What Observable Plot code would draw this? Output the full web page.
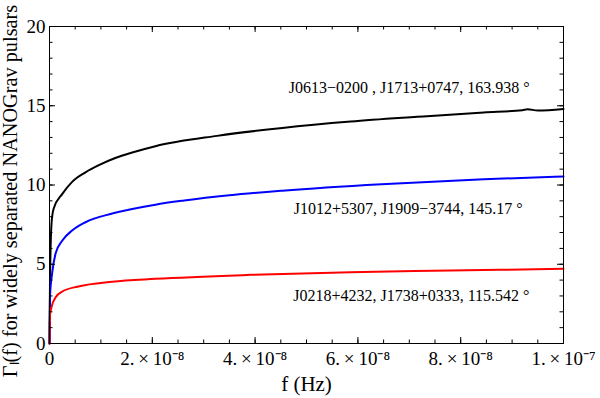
<!DOCTYPE html>
<html>
<head>
<meta charset="utf-8">
<script src="https://cdn.jsdelivr.net/npm/d3@7"></script>
<script src="https://cdn.jsdelivr.net/npm/@observablehq/plot@0.6"></script>
<style>
  html, body { margin: 0; padding: 0; background: #fff; }
  #chart { width: 600px; height: 398px; }
  #chart svg { font-family: 'Liberation Serif', 'Times New Roman', serif; }
</style>
</head>
<body>
<div id="chart"></div>
<script>
// Frequencies in Hz and Γ values for each pulsar pair
const fBlack = [0, 0.01e-8, 0.04e-8, 0.08e-8, 0.25e-8, 0.44e-8, 0.70e-8, 0.96e-8, 1.28e-8, 1.61e-8, 2.06e-8, 3.26e-8, 4.53e-8, 5.86e-8, 7.15e-8, 8.45e-8, 9.20e-8, 9.30e-8, 9.50e-8, 10e-8];
const gBlack = [0, 4.0, 7.6, 8.5, 9.44, 10.2, 10.8, 11.25, 11.7, 12.05, 12.45, 13.1, 13.6, 14.0, 14.3, 14.58, 14.72, 14.78, 14.7, 14.8];

const fBlue = [0, 0.01e-8, 0.05e-8, 0.12e-8, 0.25e-8, 0.44e-8, 0.70e-8, 1.22e-8, 2.06e-8, 2.62e-8, 3.5e-8, 4.53e-8, 6.46e-8, 8.45e-8, 10e-8];
const gBlue = [0, 3.0, 4.4, 5.7, 6.5, 7.13, 7.65, 8.2, 8.76, 9.02, 9.35, 9.64, 10.05, 10.36, 10.54];

const fRed = [0, 0.01e-8, 0.04e-8, 0.12e-8, 0.25e-8, 0.56e-8, 1.22e-8, 2.06e-8, 3.91e-8, 5.86e-8, 7.80e-8, 10e-8];
const gRed = [0, 1.8, 2.3, 2.92, 3.28, 3.6, 3.9, 4.08, 4.33, 4.5, 4.6, 4.71];

const seriesNames = ["black", "blue", "red"];
const seriesColors = ["#000000", "#0000ff", "#ff0000"];

const pairLabels = [
  "J0613\u22120200 , J1713+0747, 163.938 \u00b0",
  "J1012+5307, J1909\u22123744, 145.17 \u00b0",
  "J0218+4232, J1738+0333, 115.542 \u00b0"
];
const labelF = [7.0e-8, 6.98e-8, 7.04e-8];
const labelG = [16.1, 8.52, 3.03];

const xTicks = [0, 2e-8, 4e-8, 6e-8, 8e-8, 1e-7];
const xTickLabels = ["0", "2.\u2009\u00d7\u200910\u207b\u2078", "4.\u2009\u00d7\u200910\u207b\u2078", "6.\u2009\u00d7\u200910\u207b\u2078", "8.\u2009\u00d7\u200910\u207b\u2078", "1.\u2009\u00d7\u200910\u207b\u2077"];
const xMinor = d3.range(0, 21).map(i => i * 0.5e-8);
const yTicks = [0, 5, 10, 15, 20];
const yMinor = d3.range(0, 21);

const xLabel = "f (Hz)";
const yLabel = "\u0393\u2097(f) for widely separated NANOGrav pulsars";

// Build the table the library needs
const rows = [];
[[fBlack, gBlack], [fBlue, gBlue], [fRed, gRed]].forEach(([fs, gs], k) => {
  fs.forEach((f, i) => rows.push({series: seriesNames[k], f, g: gs[i]}));
});
const labelRows = pairLabels.map((t, i) => ({t, f: labelF[i], g: labelG[i]}));

const W = 600, H = 398;
const mL = 49, mR = 37, mT = 26, mB = 55;
const innerW = W - mL - mR, innerH = H - mT - mB;
const major = 6, minor = 3.5;

const chart = Plot.plot({
  width: W,
  height: H,
  marginLeft: mL,
  marginRight: mR,
  marginTop: mT,
  marginBottom: mB,
  style: {fontFamily: "'Liberation Serif', 'Times New Roman', serif", fontSize: "18px", background: "#fff", color: "#000"},
  x: {domain: [0, 1e-7], axis: null},
  y: {domain: [0, 20], axis: null},
  color: {domain: seriesNames, range: seriesColors},
  marks: [
    Plot.line(rows, {x: "f", y: "g", z: "series", stroke: "series", strokeWidth: 2, curve: "monotone-x"}),
    Plot.frame({stroke: "#000", strokeWidth: 1}),
    Plot.tickX(xMinor, {x: d => d, insetTop: innerH - minor, stroke: "#000"}),
    Plot.tickX(xMinor, {x: d => d, insetBottom: innerH - minor, stroke: "#000"}),
    Plot.tickX(xTicks, {x: d => d, insetTop: innerH - major, stroke: "#000"}),
    Plot.tickX(xTicks, {x: d => d, insetBottom: innerH - major, stroke: "#000"}),
    Plot.tickY(yMinor, {y: d => d, insetRight: innerW - minor, stroke: "#000"}),
    Plot.tickY(yMinor, {y: d => d, insetLeft: innerW - minor, stroke: "#000"}),
    Plot.tickY(yTicks, {y: d => d, insetRight: innerW - major, stroke: "#000"}),
    Plot.tickY(yTicks, {y: d => d, insetLeft: innerW - major, stroke: "#000"}),
    // tick labels
    Plot.text(xTicks, {x: d => d, frameAnchor: "bottom", lineAnchor: "top", textAnchor: "middle", dy: 8, fontSize: 19, text: (d, i) => xTickLabels[i]}),
    Plot.text(yTicks, {y: d => d, frameAnchor: "left", lineAnchor: "middle", textAnchor: "end", dx: -4, fontSize: 19, text: d => String(d)}),
    // axis titles
    Plot.text([xLabel], {frameAnchor: "bottom", lineAnchor: "middle", textAnchor: "middle", dy: 41, fontSize: 21, text: d => d}),
    Plot.text([yLabel], {frameAnchor: "left", lineAnchor: "middle", textAnchor: "middle", dx: -39, dy: 6, rotate: -90, fontSize: 20.3, text: d => d}),
    // pair annotations
    Plot.text(labelRows, {x: "f", y: "g", text: "t", fontSize: 16, fill: "#000"})
  ]
});
document.getElementById("chart").appendChild(chart);
</script>
</body>
</html>
